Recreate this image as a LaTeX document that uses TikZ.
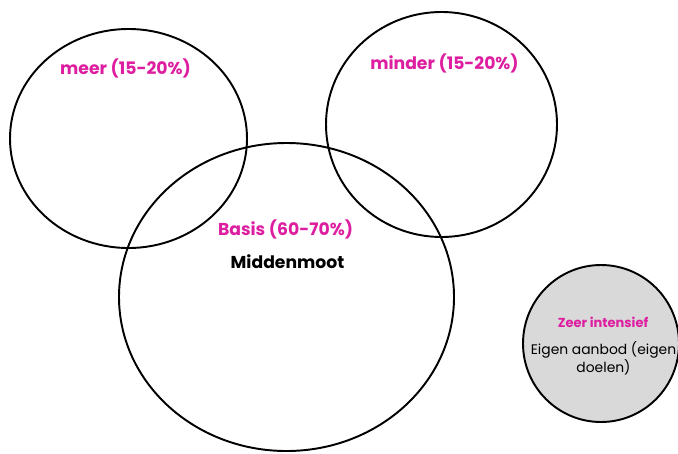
\documentclass[tikz,border=0pt]{standalone}
\usepackage{fontspec}
\setmainfont{Poppins}
\definecolor{roze}{RGB}{221,30,160}
\definecolor{lichtgrijs}{RGB}{217,217,217}
\tikzset{
  cirkel/.style={line width=1.1pt},
  kop/.style={text=roze, font=\bfseries\fontsize{9.8}{12}\selectfont},
  klein/.style={text=roze, font=\bfseries\fontsize{7.4}{9}\selectfont},
  tekst/.style={font=\fontsize{7.9}{10.2}\selectfont, align=center}
}

\begin{document}
\begin{tikzpicture}[x=0.02cm,y=-0.02cm]
		%%%%% START %%%%%
		\useasboundingbox (0,0) rectangle (678,453);
		
		% bovenste cirkels
		\draw[cirkel] (128.5,138.5) ellipse [x radius=118.5, y radius=109.5];
		\draw[cirkel] (441.5,124.5) ellipse [x radius=115.5, y radius=112.5];
		
		% grote cirkel
		\draw[cirkel] (286.5,297) ellipse [x radius=167.5, y radius=154];
		
		% grijze cirkel
		\draw[cirkel, fill=lichtgrijs] (601,343.5) ellipse [x radius=78, y radius=78.5];
		
		\node[kop] (meer) at (125.5,68) {meer (15-20\%)};
		\node[kop] (minder) at (444.5,63) {minder (15-20\%)};
		\node[kop] (basis) at (285.5,229) {Basis (60-70\%)};
		\node[kop, text=black] (midden) at (287.5,262) {Middenmoot};
		
		\node[klein] (zeer) at (603,322) {Zeer intensief};
		\node[tekst] (eigen) at (603.5,358) {Eigen aanbod (eigen\\doelen)};
		
		%%%%% END %%%%%
	\end{tikzpicture}
\end{document}
